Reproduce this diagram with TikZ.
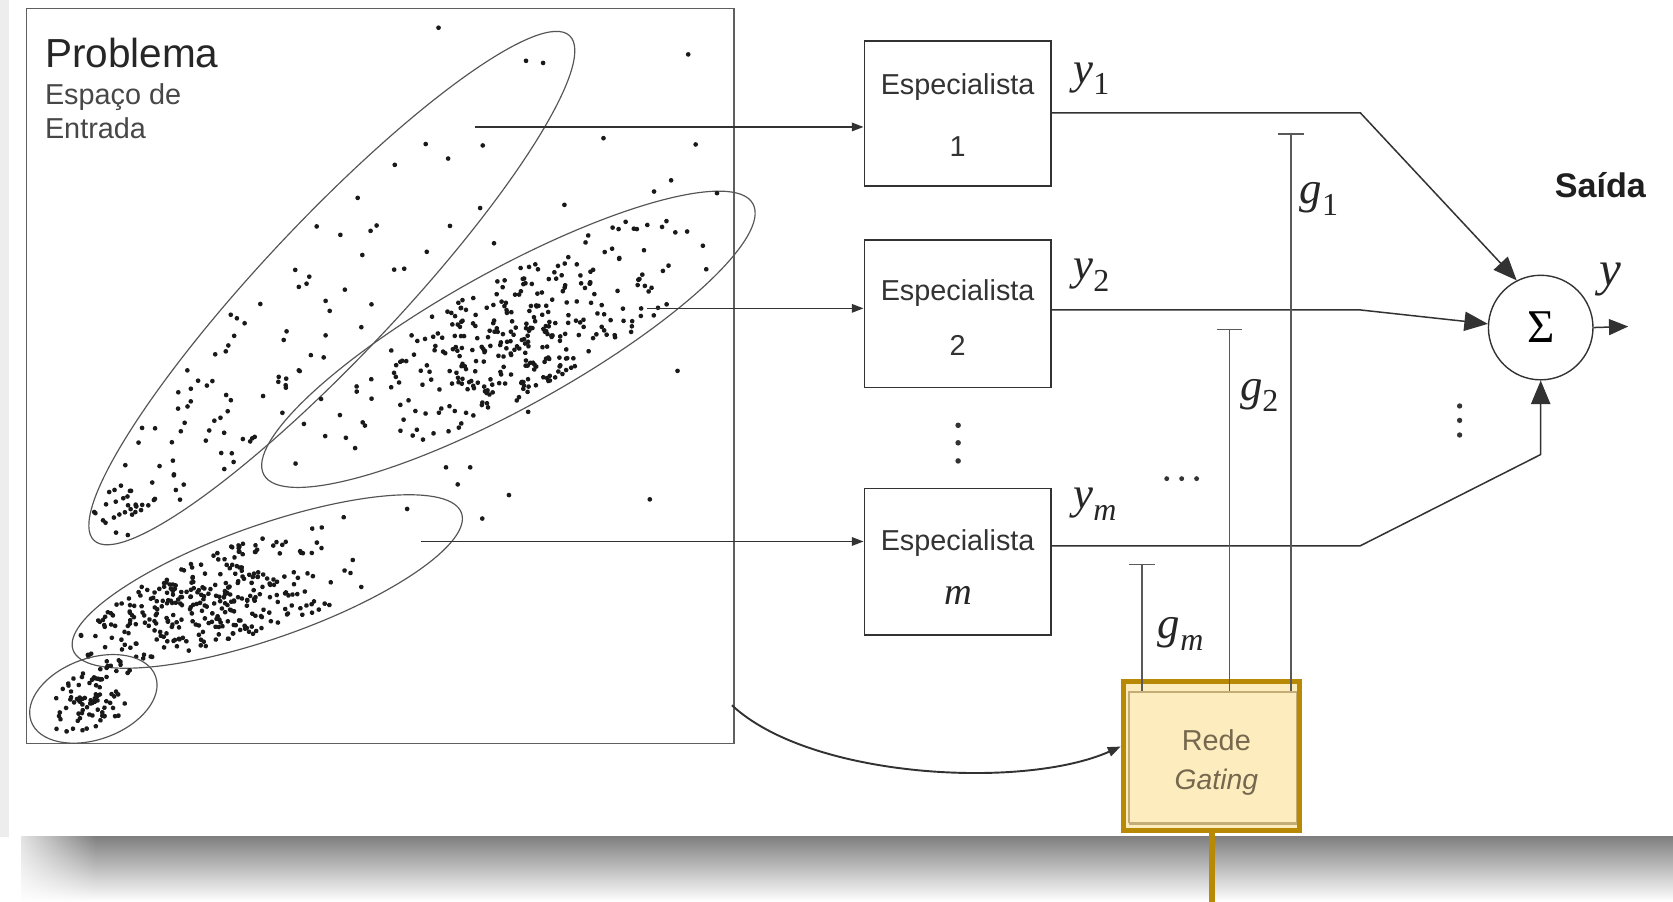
\documentclass[tikz,border=0pt]{standalone}
\usepackage{fontspec}
\setmainfont{Liberation Serif}
\setsansfont{Liberation Sans}
\usetikzlibrary{arrows.meta,calc,fadings}

\definecolor{gold}{RGB}{183,137,5}
\definecolor{cream}{RGB}{252,236,190}
\definecolor{tanl}{RGB}{196,172,118}
\definecolor{redetxt}{RGB}{118,104,78}
\definecolor{linec}{RGB}{50,50,50}
\definecolor{ellc}{RGB}{85,85,85}
\definecolor{boxc}{RGB}{95,95,95}

\newcommand\fs[1]{\fontsize{#1}{#1}\selectfont}
\newcommand\lab[2]{{\fs{42}\itshape #1}\raisebox{-11pt}{\fs{30}#2}}
\newcommand\cloud[6]{%
  \foreach \k in {1,...,#1}{%
    \pgfmathsetmacro\uu{max(-0.94,min(0.94,#4+#5*(rand+rand+rand)))}%
    \pgfmathsetmacro\vv{#6*rand*sqrt(1-(\uu)*(\uu))}%
    \fill[dotc] ({\uu*#2},{\vv*#3}) circle (2.2);%
  }}

\tikzset{
  conn/.style={draw=linec, line width=1.4pt},
  tipS/.style={-{Triangle[length=11pt,width=8pt]}},
  tipB/.style={-{Triangle[length=22pt,width=18pt]}},
  ell/.style={draw=ellc, line width=1.1pt},
  dotc/.style={fill=black!90},
  spec/.style={draw=linec, line width=1.3pt, minimum width=175pt, inner sep=0pt},
  stxt/.style={font=\sffamily\fs{27}, text=black!80, inner sep=0pt},
  lbl/.style={inner sep=0pt, text=black!85},
  gl/.style={draw=black!65, line width=1.4pt},
  smalldot/.style={fill=black!80},
}

\begin{document}
\begin{tikzpicture}[x=1pt,y=-1pt]
\useasboundingbox (0,0) rectangle (1568,845);
% background panel and shadow
\fill[white] (0,0) rectangle (1568,845);
\shade[top color=black!50, bottom color=white] (20,784) rectangle (1568,845);
\fill[white, path fading=east] (0,780) rectangle (90,845);
\fill[black!7] (0,0) rectangle (8,784);

% problem space
\node[draw=boxc, line width=1.4pt, minimum width=663pt, minimum height=689pt, inner sep=0pt] (prob) at (356.5,352.5) {};
\node[inner sep=0pt, anchor=base west, font=\sffamily\fs{38}, text=black!85] (tprob) at (42,63.5) {Problema};
\node[inner sep=0pt, anchor=base west, font=\sffamily\fs{27}, text=black!72] (tesp) at (42,98) {Espaço de};
\node[inner sep=0pt, anchor=base west, font=\sffamily\fs{27}, text=black!72] (tent) at (42,130) {Entrada};

\pgfmathsetseed{42}
\begin{scope}[shift={(311,270)}, rotate=46.7]
  \draw[ell] (0,0) ellipse [x radius=325, y radius=64];
  \cloud{95}{325}{64}{-0.35}{0.33}{0.85}
  \cloud{16}{325}{64}{-0.86}{0.02}{0.4}
\end{scope}
\begin{scope}[shift={(476.5,318)}, rotate=29]
  \draw[ell] (0,0) ellipse [x radius=262, y radius=64];
  \cloud{340}{262}{64}{0.0}{0.33}{0.85}
\end{scope}
\begin{scope}[shift={(250.5,545)}, rotate=19.4]
  \draw[ell] (0,0) ellipse [x radius=193, y radius=53];
  \cloud{330}{193}{53}{-0.28}{0.3}{0.8}
\end{scope}
\begin{scope}[shift={(87.5,655)}, rotate=20]
  \draw[ell] (0,0) ellipse [x radius=62, y radius=38];
  \cloud{85}{62}{38}{0.0}{0.3}{0.7}
\end{scope}
\foreach \p in {(411,26),(645,51),(565.6,129.5),(652,135.4),(629,169),(529,192),(463,228),(609,468),(477,464),(452,486),(635,347.6),(644,217),(672,181),(613,179.5),(450,195),(399,135),(420,148.6),(370,154.5),(429,454),(440.7,438),(418,438),(495,386),(381.6,477),(400,236),(493,57),(509,59)}
  \fill[dotc] \p circle (2.2);

% experts
\node[spec, minimum height=136pt] (e1) at (897.5,106.5) {};
\node[spec, minimum height=138pt] (e2) at (897.5,294) {};
\node[spec, minimum height=137pt] (em) at (897.5,526.5) {};
\node[stxt, anchor=base] (e1t) at (897.5,89) {Especialista};
\node[stxt, anchor=base] (e1n) at (897.5,146.5) {1};
\node[stxt, anchor=base] (e2t) at (897.5,282) {Especialista};
\node[stxt, anchor=base] (e2n) at (897.5,333.5) {2};
\node[stxt, anchor=base] (emt) at (897.5,515.5) {Especialista};
\node[lbl, anchor=base, font=\fs{36}\itshape] (emn) at (898,567) {m};

% input arrows
\coordinate (s1) at (445,119);
\coordinate (s2) at (606.5,289);
\coordinate (s3) at (395,507.5);
\draw[conn, tipS] (s1) -- (s1 -| e1.west);
\draw[conn, tipS] (s2) -- (s2 -| e2.west);
\draw[conn, tipS] (s3) -- (s3 -| em.west);

% dots
\foreach \yy in {398.6,415,432} \fill[smalldot] (898,\yy) circle (2.6);
\foreach \xx in {1093.5,1107.5,1121.5} \fill[smalldot] (\xx,448.6) circle (2.3);
\foreach \yy in {380.5,394,407.7} \fill[smalldot] (1368,\yy) circle (2.5);

% sum node
\node[circle, draw=linec, line width=1.3pt, minimum size=98pt, inner sep=0pt, font=\fs{44}] (sig) at (1444,307) {Σ};

% expert outputs
\coordinate (b1) at (1275,105.8);
\coordinate (b2) at (1275,290.5);
\coordinate (b3) at (1275,511.5);
\coordinate (b4) at (1444,426);
\draw[conn, tipB] (e1.east |- b1) -- (b1) -- (sig.117);
\draw[conn, tipB] (e2.east |- b2) -- (b2) -- (sig.176);
\draw[conn, tipB] (em.east |- b3) -- (b3) -- (b4) -- (sig.south);
\coordinate (yend) at (1526,306);
\draw[conn, -{Triangle[length=18pt,width=15pt]}] (sig.east) -- (yend);

% labels
\node[lbl, anchor=base west] (ly1) at (1006,78) {\lab{y}{1}};
\node[lbl, anchor=base west] (ly2) at (1006,262) {\lab{y}{2}};
\node[lbl, anchor=base west] (lym) at (1006,476.4) {\lab{y}{\itshape m}};
\node[lbl, anchor=base west] (lg1) at (1218,191) {\lab{g}{1}};
\node[lbl, anchor=base west] (lg2) at (1162,375) {\lab{g}{2}};
\node[lbl, anchor=base west] (lgm) at (1085,598.5) {\lab{g}{\itshape m}};
\node[lbl, anchor=base west, font=\fs{46}\itshape] (ly) at (1499,268) {y};
\node[lbl, anchor=base west, font=\sffamily\bfseries\fs{32}, text=black!88] (tsaida) at (1457,185) {Saída};

% gating network
\node[draw=gold, line width=4.6pt, fill=cream, minimum width=165pt, minimum height=139.4pt, inner sep=0pt] (rede) at (1135.1,708.7) {};
\draw[tanl, line width=2pt] (1058.5,771.6) -- (1058.5,648.2) -- (1215.3,648.2);
\draw[tanl, line width=3.2pt] (1058.5,771.6) -- (1215.3,771.6);
\draw[tanl, line width=1pt] (1215.3,648.2) -- (1215.3,771.6);
\node[inner sep=0pt, anchor=base, font=\sffamily\fs{27}, text=redetxt] (trede) at (1140,703) {Rede};
\node[inner sep=0pt, anchor=base, font=\sffamily\itshape\fs{26.5}, text=redetxt] (tgat) at (1140,740) {Gating};
\coordinate (goldend) at (1136,845);
\draw[gold, line width=6pt] (rede.south -| goldend) -- (goldend);

% gating signals
\coordinate (g1c) at (1210,125);
\coordinate (g2c) at (1152.5,308);
\coordinate (gmc) at (1070.5,528.5);
\draw[gl, {Bar[width=24pt]}-] (g1c) -- ($(g1c |- rede.north)+(0,11)$);
\draw[gl, {Bar[width=24pt]}-] (g2c) -- ($(g2c |- rede.north)+(0,11)$);
\draw[gl, {Bar[width=24pt]}-] (gmc) -- ($(gmc |- rede.north)+(0,11)$);

% input to gating
\coordinate (cs) at (686,661);
\draw[conn, line width=1.8pt, -{Triangle[length=12pt,width=9pt]}] (cs) .. controls (760,730) and (960,740) .. ([yshift=9pt]rede.west);
\end{tikzpicture}
\end{document}
